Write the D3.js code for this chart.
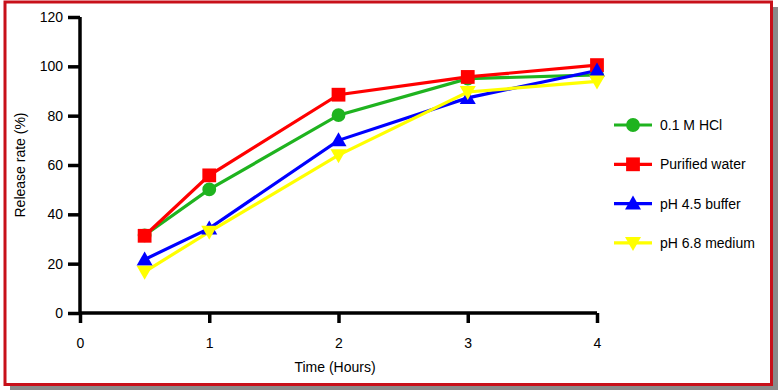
<!DOCTYPE html>
<html><head><meta charset="utf-8">
<script src="https://cdn.jsdelivr.net/npm/d3@7"></script>
<style>body{margin:0;background:#fff}svg{display:block;font-family:Arial,"Liberation Sans",sans-serif}</style>
</head><body><svg id="c" width="782" height="390"></svg>
<script>
const times = [0.5, 1, 2, 3, 4];
const hcl = [31.5, 50.1, 80.2, 95.0, 96.5];
const water = [31.3, 55.8, 88.5, 95.7, 100.5];
const ph45 = [21.7, 34.3, 70.0, 87.2, 98.3];
const ph68 = [16.7, 32.9, 64.0, 89.6, 93.9];
const seriesNames = ["0.1 M HCl", "Purified water", "pH 4.5 buffer", "pH 6.8 medium"];
const seriesColors = ["#1fb31f", "#ff0000", "#0000ff", "#ffff00"];
const seriesSymbols = ["circle", "square", "triangle", "triangleDown"];
const xTicks = [0, 1, 2, 3, 4];
const yTicks = [0, 20, 40, 60, 80, 100, 120];

const series = [hcl, water, ph45, ph68].map((v, i) => ({name: seriesNames[i], color: seriesColors[i], sym: seriesSymbols[i], values: v}));

const svg = d3.select("#c");
// frame with shadow
svg.append("rect").attr("x", 10).attr("y", 7).attr("width", 768).attr("height", 383).attr("fill", "#8a8a8a");
svg.append("rect").attr("x", 5).attr("y", 2).attr("width", 766.5).attr("height", 382.5).attr("fill", "#fff").attr("stroke", "#c8101a").attr("stroke-width", 3);

const x = d3.scaleLinear().domain([0, 4]).range([80, 597]);
const y = d3.scaleLinear().domain([0, 120]).range([313, 17]);

const yAxis = svg.append("g").attr("transform", "translate(80,0)")
  .call(d3.axisLeft(y).tickValues(yTicks).tickSize(12).tickPadding(5).tickSizeOuter(0).tickFormat(d3.format("d")));
const xAxis = svg.append("g").attr("transform", "translate(0,313)")
  .call(d3.axisBottom(x).tickValues(xTicks).tickSize(10).tickPadding(15).tickSizeOuter(0).tickFormat(d3.format("d")));
[yAxis, xAxis].forEach(g => {
  g.select(".domain").attr("stroke", "#000").attr("stroke-width", 3.5);
  g.selectAll(".tick line").attr("stroke", "#000").attr("stroke-width", 3.5);
  g.selectAll(".tick text").attr("fill", "#000").attr("font-size", 14).attr("font-family", "Arial, 'Liberation Sans', sans-serif");
});
xAxis.select(".domain").attr("d", `M${x(0)},0H${x(4)}`);
yAxis.select(".domain").attr("d", `M0,${y(120)}V${y(0)}`);

svg.append("text").attr("x", 335).attr("y", 372).attr("text-anchor", "middle").attr("font-size", 14).text("Time (Hours)");
svg.append("text").attr("transform", "translate(25,165) rotate(-90)").attr("text-anchor", "middle").attr("font-size", 14).text("Release rate (%)");

function symbolPath(sym) {
  if (sym === "circle") return d3.symbol(d3.symbolCircle, 150)();
  if (sym === "square") return d3.symbol(d3.symbolSquare, 190)();
  if (sym === "triangle") return "M0,-8L8,6L-8,6Z";
  return "M0,8L8,-6L-8,-6Z";
}

const line = d3.line().x((d, i) => x(times[i])).y(d => y(d));
series.forEach(s => {
  svg.append("path").datum(s.values).attr("d", line).attr("fill", "none").attr("stroke", s.color).attr("stroke-width", 3.2);
});
series.forEach(s => {
  svg.append("g").selectAll("path").data(s.values).join("path")
    .attr("transform", (d, i) => `translate(${x(times[i])},${y(d)})`)
    .attr("d", symbolPath(s.sym)).attr("fill", s.color);
});

const leg = svg.append("g");
series.forEach((s, i) => {
  const yy = 125 + i * 39.3;
  leg.append("line").attr("x1", 614).attr("x2", 652).attr("y1", yy).attr("y2", yy).attr("stroke", s.color).attr("stroke-width", 3.2);
  leg.append("path").attr("transform", `translate(633,${yy})`).attr("d", symbolPath(s.sym)).attr("fill", s.color);
  leg.append("text").attr("x", 660).attr("y", yy + 5).attr("font-size", 14).text(s.name);
});
</script></body></html>
